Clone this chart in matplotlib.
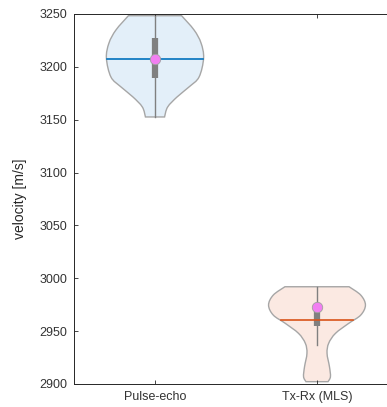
import numpy as np
import matplotlib.pyplot as plt
from matplotlib.path import Path
from matplotlib.patches import PathPatch

# groups
labels = ["Pulse-echo", "Tx-Rx (MLS)"]

# violin outlines: velocity level and half width (x units)
echo_y = [3248.4, 3234.9, 3222.6, 3208.4, 3190.4, 3181.0, 3171.5, 3162.0, 3152.6]
echo_w = [0.164, 0.241, 0.284, 0.300, 0.272, 0.210, 0.136, 0.078, 0.059]
mls_y = [2992.0, 2984.1, 2974.7, 2965.2, 2957.4, 2947.9, 2938.5, 2929.0, 2916.3, 2906.9, 2902.2]
mls_w = [0.198, 0.270, 0.299, 0.270, 0.196, 0.114, 0.072, 0.062, 0.077, 0.083, 0.068]

# summary stats
medians = [3207.1, 2960.2]
means = [3207.1, 2973.1]
q1 = [3189.0, 2955.0]
q3 = [3227.0, 2972.0]
whisk_lo = [3152.6, 2937.0]
whisk_hi = [3248.4, 2992.0]

fills = ["#e3eff9", "#fbe9e2"]
med_colors = ["#0072bd", "#d95319"]


def smooth_side(ys, xs):
  # Catmull-Rom through the points -> bezier segments
  pts = np.column_stack([xs, ys])
  verts = [pts[0]]
  codes = [Path.MOVETO]
  n = len(pts)
  for i in range(n - 1):
    p0 = pts[max(i - 1, 0)]
    p1 = pts[i]
    p2 = pts[i + 1]
    p3 = pts[min(i + 2, n - 1)]
    c1 = p1 + (p2 - p0) / 6.0
    c2 = p2 - (p3 - p1) / 6.0
    verts += [c1, c2, p2]
    codes += [Path.CURVE4] * 3
  return verts, codes


def violin(ax, pos, ys, ws, fc):
  ys = np.array(ys)
  ws = np.array(ws)
  rv, rc = smooth_side(ys[::-1], pos + ws[::-1])   # right side bottom -> top
  lv, lc = smooth_side(ys, pos - ws)                # left side top -> bottom
  verts = rv + lv + [rv[0]]
  codes = rc + [Path.LINETO] + lc[1:] + [Path.CLOSEPOLY]
  patch = PathPatch(Path(verts, codes), facecolor=fc, edgecolor="#a6a6a6", lw=1.0, zorder=1)
  ax.add_patch(patch)


fig = plt.figure(figsize=(3.87, 4.07), dpi=100)
ax = fig.add_axes([74 / 387, 23 / 407, 324 / 387, 370 / 407])

fam = ['Liberation Sans', 'DejaVu Sans']

outlines = [(echo_y, echo_w), (mls_y, mls_w)]
for i, (ys, ws) in enumerate(outlines):
  pos = i + 1
  violin(ax, pos, ys, ws, fills[i])
  ax.plot([pos, pos], [whisk_lo[i], whisk_hi[i]], color="#808080", lw=1.0, zorder=2)
  ax.plot([pos, pos], [q1[i], q3[i]], color="#808080", lw=4.5, solid_capstyle="butt", zorder=3)
  # median spans violin width
  w_med = np.interp(medians[i], ys[::-1], ws[::-1])
  ax.plot([pos - w_med, pos + w_med], [medians[i], medians[i]], color=med_colors[i], lw=1.2, zorder=4)
  ax.plot(pos, means[i], "o", color="#f27ff2", markeredgecolor="#a0a0a0", markeredgewidth=0.6,
          markersize=7.5, zorder=5)

ax.set_xlim(0.5, 2.5)
ax.set_ylim(2900, 3250)
ax.set_xticks([1, 2])
ax.set_xticklabels(labels, fontsize=9, color="#333333", family=fam)
ax.set_yticks(np.arange(2900, 3251, 50))
ax.set_yticklabels([str(v) for v in range(2900, 3251, 50)], fontsize=9, color="#333333", family=fam)
ax.tick_params(direction="in", length=3, width=0.6, top=True, right=True, colors="#262626", pad=5)
for lab in ax.get_xticklabels() + ax.get_yticklabels():
  lab.set_color("#333333")
ax.set_ylabel("velocity [m/s]", fontsize=10, color="#262626", labelpad=9, family=fam)
for s in ax.spines.values():
  s.set_color("#262626")
  s.set_linewidth(0.7)

fig.savefig("out.png", dpi=100)
